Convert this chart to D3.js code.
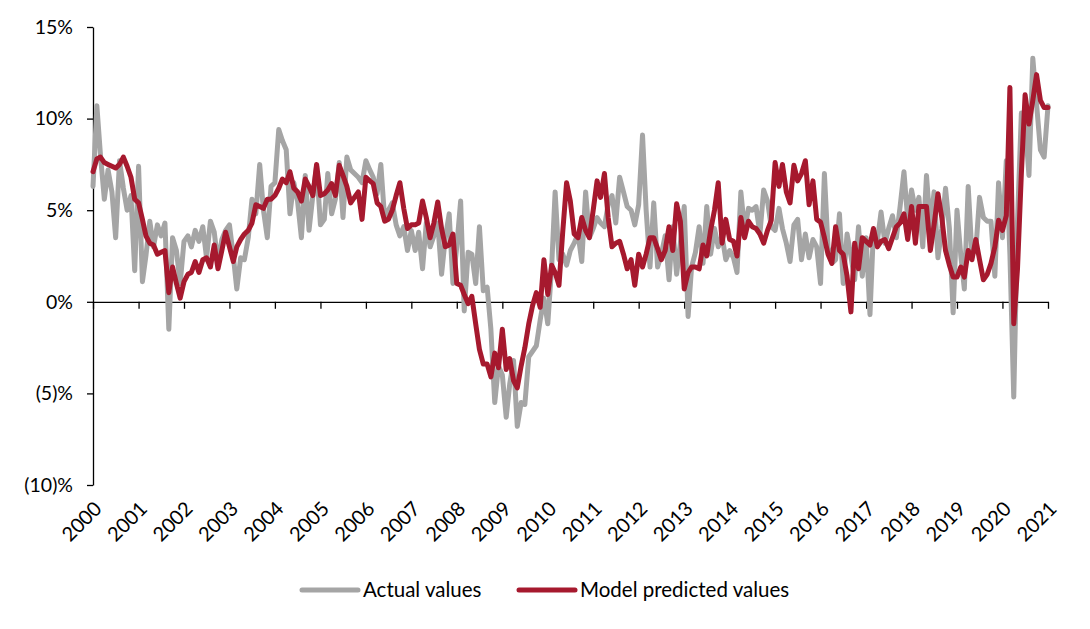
<!DOCTYPE html>
<html><head><meta charset="utf-8">
<script src="https://cdn.jsdelivr.net/npm/d3@7"></script>
<style>
body{margin:0;background:#fff;}
svg{display:block;}
text{font-family:Lato,"Liberation Sans",sans-serif;fill:#000;}
</style>
</head><body>
<svg id="chart" width="1090" height="629"></svg>
<script>
const startYear = 2000;
const endYear = 2021;
// Monthly values Jan 2000 .. Jan 2021 (%)
const actual = [
 6.3,10.7,8.0,5.6,7.2,6.0,3.5,7.7,6.2,5.0,5.8,1.7,
 7.4,1.1,2.5,4.4,3.0,4.2,3.6,4.3,-1.5,3.5,2.8,1.0,
 3.3,3.6,3.0,3.9,3.3,4.1,2.4,4.4,3.8,2.1,3.4,3.9,
 4.2,2.5,0.7,2.4,2.3,3.5,5.6,4.8,7.5,5.0,3.5,6.3,
 6.5,9.4,8.8,8.3,4.8,6.5,5.5,3.5,6.9,3.9,5.8,7.4,
 4.2,4.5,7.0,4.8,5.6,7.6,4.6,7.9,7.2,7.0,6.8,6.5,
 7.7,7.2,6.8,5.9,7.5,4.5,5.0,5.4,4.2,3.6,4.1,2.8,
 3.9,2.8,3.8,1.8,4.3,3.0,3.6,4.3,1.5,3.5,4.8,1.0,
 3.0,5.5,-0.5,2.7,2.6,1.0,4.1,0.6,0.8,-1.5,-5.5,-3.5,
 -4.0,-6.3,-4.5,-3.2,-6.8,-5.5,-5.6,-3.0,-2.7,-2.4,-1.0,0.2,
 -1.2,1.9,6.0,2.3,2.6,2.0,2.8,3.2,3.7,2.2,6.0,3.5,
 4.0,4.6,4.3,4.1,5.3,5.8,4.3,6.8,6.0,5.2,5.0,4.2,
 5.3,9.1,5.0,1.9,5.4,1.9,2.6,3.6,1.2,4.1,1.5,3.2,
 5.2,-0.8,1.9,2.7,4.1,2.1,5.2,2.6,4.0,3.0,3.6,2.3,
 2.8,2.4,1.6,6.0,3.9,5.1,5.0,5.2,3.7,6.1,5.5,4.1,
 3.9,5.1,4.0,3.2,2.2,4.2,4.5,2.3,3.7,2.4,3.4,3.0,
 1.0,7.0,3.0,2.1,2.3,4.8,1.0,3.7,2.5,1.2,4.1,1.4,
 3.5,-0.7,3.9,3.3,4.9,3.2,4.0,4.7,3.5,5.2,7.1,4.5,
 6.1,5.0,5.7,3.0,6.9,4.1,6.0,2.4,4.0,6.2,4.0,-0.6,
 5.0,2.5,0.7,6.3,2.6,2.8,5.7,4.6,4.4,4.4,1.4,6.5,
 3.5,7.7,2.6,-5.2,4.4,10.3,9.8,6.9,13.3,10.8,8.3,7.9,
 10.7
];
const predicted = [
 7.1,7.8,7.9,7.6,7.5,7.4,7.3,7.5,7.9,7.4,6.8,5.6,
 5.4,4.5,3.6,3.2,3.1,2.6,2.7,2.8,0.5,1.9,1.0,0.2,
 1.1,1.5,1.6,2.2,1.6,2.3,2.4,1.9,3.1,1.8,2.8,3.8,
 3.0,2.2,3.0,3.4,3.7,3.9,4.3,5.3,5.2,5.1,5.6,5.6,
 5.8,6.2,6.7,6.5,7.1,6.2,6.0,5.5,6.7,6.3,5.8,7.5,
 5.8,5.9,6.1,6.45,5.8,7.45,6.9,6.3,5.4,5.7,6.0,4.5,
 6.8,6.6,6.45,5.4,5.2,4.4,4.5,5.0,5.8,6.5,5.1,4.0,
 4.2,4.2,4.3,5.5,4.6,3.5,4.3,5.45,4.0,3.0,3.1,3.7,
 1.0,0.9,0.4,-0.1,0.3,-1.2,-2.6,-3.4,-3.4,-4.1,-2.8,-3.6,
 -1.5,-3.7,-3.1,-4.3,-4.7,-3.5,-2.5,-1.2,-0.2,0.5,-0.3,2.3,
 0.4,2.0,1.6,0.9,3.8,6.5,5.5,3.7,3.5,4.6,3.9,3.5,
 5.0,6.6,5.7,7.0,4.6,3.0,3.2,3.3,2.6,1.8,2.3,0.9,
 2.6,1.9,2.6,3.5,3.5,2.9,2.3,2.8,4.1,2.8,5.35,4.4,
 0.7,1.6,1.9,1.9,1.8,3.1,2.5,3.9,5.0,6.5,3.2,4.5,
 3.4,3.3,2.5,4.6,3.5,4.4,4.1,4.0,3.7,3.2,3.9,4.45,
 7.6,6.3,7.5,6.0,5.4,7.45,6.6,7.0,7.7,5.3,6.6,4.5,
 4.35,3.5,2.6,2.1,4.1,2.8,2.6,1.4,-0.55,3.2,1.8,3.5,
 3.3,3.1,4.0,3.0,3.3,3.4,2.9,3.5,4.1,4.3,4.8,3.4,
 5.2,3.2,5.2,5.2,5.2,2.8,4.2,5.9,4.6,2.8,2.0,1.35,
 1.35,1.9,1.35,2.8,2.3,3.4,2.3,1.2,1.5,2.1,3.0,4.45,
 3.9,4.7,11.7,-1.2,1.8,7.0,11.3,9.7,11.0,12.4,11.0,10.6,
 10.6
];
const yTicks = [-10,-5,0,5,10,15];
const seriesNames = ["Actual values","Model predicted values"];
const seriesColors = ["#A5A5A5","#A6192E"];

const svg = d3.select("#chart");
const x = d3.scaleTime()
  .domain([new Date(startYear,0,1), new Date(endYear,0,1)])
  .range([93,1048]);
const y = d3.scaleLinear().domain([-10,15]).range([485,27]);
const dateOf = i => new Date(startYear, i, 1);
const fmt = v => v < 0 ? "(" + Math.abs(v) + ")%" : v + "%";

// Y axis
const yAxis = svg.append("g").attr("transform","translate(93,0)")
  .call(d3.axisLeft(y).tickValues(yTicks).tickSize(6).tickSizeOuter(0).tickPadding(14).tickFormat(fmt));
yAxis.select(".domain").attr("stroke","#000").attr("stroke-width",1.3);
yAxis.selectAll(".tick line").attr("stroke","#000").attr("stroke-width",1.3);
yAxis.selectAll(".tick text").style("font-size","19.5px").style("font-family","Lato, sans-serif").attr("fill","#000");

// X axis on the zero line
const yearTicks = d3.range(startYear, endYear+1).map(yr => new Date(yr,0,1));
const xAxis = svg.append("g").attr("transform",`translate(0,${y(0)})`)
  .call(d3.axisBottom(x).tickValues(yearTicks).tickSize(7).tickSizeOuter(0).tickFormat(""));
xAxis.select(".domain").attr("stroke","#000").attr("stroke-width",1.3);
xAxis.selectAll(".tick line").attr("stroke","#000").attr("stroke-width",1.3);

// X labels at the bottom
svg.append("g").selectAll("text").data(yearTicks).join("text")
  .attr("transform", d => `translate(${x(d)+10},${y(-10)+25}) rotate(-45)`)
  .attr("text-anchor","end")
  .style("font-size","20px")
  .text(d => d3.timeFormat("%Y")(d));

// Lines
const line = d3.line().x((d,i) => x(dateOf(i))).y(d => y(d)).curve(d3.curveLinear);
[actual, predicted].forEach((s,k) => {
  svg.append("path").datum(s)
    .attr("d", line)
    .attr("fill","none")
    .attr("stroke", seriesColors[k])
    .attr("stroke-width", 5)
    .attr("stroke-linejoin","round")
    .attr("stroke-linecap","round");
});

// Legend
const legendX = [302, 519];
const lg = svg.append("g");
seriesNames.forEach((n,k) => {
  lg.append("line").attr("x1",legendX[k]).attr("x2",legendX[k]+56)
    .attr("y1",590).attr("y2",590)
    .attr("stroke",seriesColors[k]).attr("stroke-width",5).attr("stroke-linecap","round");
  lg.append("text").attr("x",legendX[k]+61).attr("y",597).style("font-size","20.5px").text(n);
});
</script>
</body></html>
